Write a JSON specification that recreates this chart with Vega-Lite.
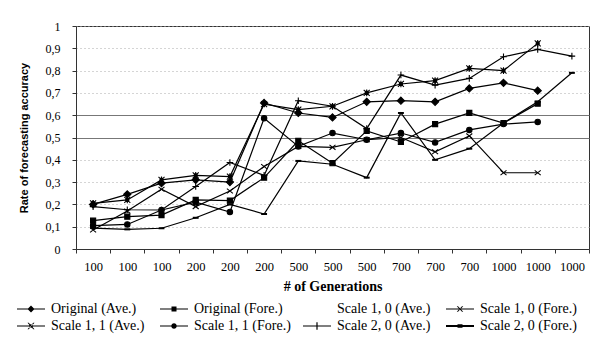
{
  "$schema": "https://vega.github.io/schema/vega-lite/v6.json",
  "autosize": {"type": "none"},
  "padding": {"left": 76, "top": 26, "right": 16, "bottom": 97},
  "width": 513,
  "height": 223,
  "background": "white",
  "config": {
    "view": {"stroke": "#333", "strokeWidth": 1},
    "font": "Liberation Serif"
  },
  "data": {"values": [
    {"i":1,"s":"Original (Ave.)","v":0.20},{"i":2,"s":"Original (Ave.)","v":0.245},{"i":3,"s":"Original (Ave.)","v":0.295},{"i":4,"s":"Original (Ave.)","v":0.31},{"i":5,"s":"Original (Ave.)","v":0.30},{"i":6,"s":"Original (Ave.)","v":0.655},{"i":7,"s":"Original (Ave.)","v":0.61},{"i":8,"s":"Original (Ave.)","v":0.59},{"i":9,"s":"Original (Ave.)","v":0.66},{"i":10,"s":"Original (Ave.)","v":0.665},{"i":11,"s":"Original (Ave.)","v":0.66},{"i":12,"s":"Original (Ave.)","v":0.72},{"i":13,"s":"Original (Ave.)","v":0.745},{"i":14,"s":"Original (Ave.)","v":0.71},
    {"i":1,"s":"Original (Fore.)","v":0.127},{"i":2,"s":"Original (Fore.)","v":0.145},{"i":3,"s":"Original (Fore.)","v":0.152},{"i":4,"s":"Original (Fore.)","v":0.22},{"i":5,"s":"Original (Fore.)","v":0.217},{"i":6,"s":"Original (Fore.)","v":0.32},{"i":7,"s":"Original (Fore.)","v":0.485},{"i":8,"s":"Original (Fore.)","v":0.385},{"i":9,"s":"Original (Fore.)","v":0.53},{"i":10,"s":"Original (Fore.)","v":0.48},{"i":11,"s":"Original (Fore.)","v":0.56},{"i":12,"s":"Original (Fore.)","v":0.61},{"i":13,"s":"Original (Fore.)","v":0.565},{"i":14,"s":"Original (Fore.)","v":0.652},
    {"i":1,"s":"Scale 1, 0 (Fore.)","v":0.085},{"i":2,"s":"Scale 1, 0 (Fore.)","v":0.17},{"i":3,"s":"Scale 1, 0 (Fore.)","v":0.268},{"i":4,"s":"Scale 1, 0 (Fore.)","v":0.19},{"i":5,"s":"Scale 1, 0 (Fore.)","v":0.26},{"i":6,"s":"Scale 1, 0 (Fore.)","v":0.37},{"i":7,"s":"Scale 1, 0 (Fore.)","v":0.46},{"i":8,"s":"Scale 1, 0 (Fore.)","v":0.456},{"i":9,"s":"Scale 1, 0 (Fore.)","v":0.49},{"i":10,"s":"Scale 1, 0 (Fore.)","v":0.50},{"i":11,"s":"Scale 1, 0 (Fore.)","v":0.436},{"i":12,"s":"Scale 1, 0 (Fore.)","v":0.507},{"i":13,"s":"Scale 1, 0 (Fore.)","v":0.342},{"i":14,"s":"Scale 1, 0 (Fore.)","v":0.342},
    {"i":1,"s":"Scale 1, 1 (Ave.)","v":0.205},{"i":2,"s":"Scale 1, 1 (Ave.)","v":0.22},{"i":3,"s":"Scale 1, 1 (Ave.)","v":0.31},{"i":4,"s":"Scale 1, 1 (Ave.)","v":0.33},{"i":5,"s":"Scale 1, 1 (Ave.)","v":0.325},{"i":6,"s":"Scale 1, 1 (Ave.)","v":0.65},{"i":7,"s":"Scale 1, 1 (Ave.)","v":0.625},{"i":8,"s":"Scale 1, 1 (Ave.)","v":0.64},{"i":9,"s":"Scale 1, 1 (Ave.)","v":0.70},{"i":10,"s":"Scale 1, 1 (Ave.)","v":0.74},{"i":11,"s":"Scale 1, 1 (Ave.)","v":0.755},{"i":12,"s":"Scale 1, 1 (Ave.)","v":0.81},{"i":13,"s":"Scale 1, 1 (Ave.)","v":0.80},{"i":14,"s":"Scale 1, 1 (Ave.)","v":0.922},
    {"i":1,"s":"Scale 1, 1 (Fore.)","v":0.105},{"i":2,"s":"Scale 1, 1 (Fore.)","v":0.11},{"i":3,"s":"Scale 1, 1 (Fore.)","v":0.175},{"i":4,"s":"Scale 1, 1 (Fore.)","v":0.21},{"i":5,"s":"Scale 1, 1 (Fore.)","v":0.166},{"i":6,"s":"Scale 1, 1 (Fore.)","v":0.586},{"i":7,"s":"Scale 1, 1 (Fore.)","v":0.46},{"i":8,"s":"Scale 1, 1 (Fore.)","v":0.52},{"i":9,"s":"Scale 1, 1 (Fore.)","v":0.49},{"i":10,"s":"Scale 1, 1 (Fore.)","v":0.52},{"i":11,"s":"Scale 1, 1 (Fore.)","v":0.478},{"i":12,"s":"Scale 1, 1 (Fore.)","v":0.534},{"i":13,"s":"Scale 1, 1 (Fore.)","v":0.56},{"i":14,"s":"Scale 1, 1 (Fore.)","v":0.57},
    {"i":1,"s":"Scale 2, 0 (Ave.)","v":0.19},{"i":2,"s":"Scale 2, 0 (Ave.)","v":0.176},{"i":3,"s":"Scale 2, 0 (Ave.)","v":0.175},{"i":4,"s":"Scale 2, 0 (Ave.)","v":0.28},{"i":5,"s":"Scale 2, 0 (Ave.)","v":0.388},{"i":6,"s":"Scale 2, 0 (Ave.)","v":0.33},{"i":7,"s":"Scale 2, 0 (Ave.)","v":0.665},{"i":8,"s":"Scale 2, 0 (Ave.)","v":0.64},{"i":9,"s":"Scale 2, 0 (Ave.)","v":0.54},{"i":10,"s":"Scale 2, 0 (Ave.)","v":0.78},{"i":11,"s":"Scale 2, 0 (Ave.)","v":0.735},{"i":12,"s":"Scale 2, 0 (Ave.)","v":0.765},{"i":13,"s":"Scale 2, 0 (Ave.)","v":0.862},{"i":14,"s":"Scale 2, 0 (Ave.)","v":0.895},{"i":15,"s":"Scale 2, 0 (Ave.)","v":0.865},
    {"i":1,"s":"Scale 2, 0 (Fore.)","v":0.094},{"i":2,"s":"Scale 2, 0 (Fore.)","v":0.088},{"i":3,"s":"Scale 2, 0 (Fore.)","v":0.093},{"i":4,"s":"Scale 2, 0 (Fore.)","v":0.14},{"i":5,"s":"Scale 2, 0 (Fore.)","v":0.20},{"i":6,"s":"Scale 2, 0 (Fore.)","v":0.157},{"i":7,"s":"Scale 2, 0 (Fore.)","v":0.395},{"i":8,"s":"Scale 2, 0 (Fore.)","v":0.38},{"i":9,"s":"Scale 2, 0 (Fore.)","v":0.32},{"i":10,"s":"Scale 2, 0 (Fore.)","v":0.61},{"i":11,"s":"Scale 2, 0 (Fore.)","v":0.40},{"i":12,"s":"Scale 2, 0 (Fore.)","v":0.45},{"i":13,"s":"Scale 2, 0 (Fore.)","v":0.565},{"i":14,"s":"Scale 2, 0 (Fore.)","v":0.66},{"i":15,"s":"Scale 2, 0 (Fore.)","v":0.79}
  ]},
  "encoding": {
    "x": {
      "field": "i", "type": "ordinal", "bandPosition": 0.5,
      "scale": {"type": "band", "paddingInner": 0, "paddingOuter": 0, "domain": [1,2,3,4,5,6,7,8,9,10,11,12,13,14,15]},
      "axis": {
        "title": "# of Generations",
        "titleFont": "Liberation Serif", "titleFontSize": 14, "titleFontWeight": "bold", "titleColor": "black", "titlePadding": 7,
        "labelExpr": "['100','100','100','200','200','200','500','500','500','700','700','700','1000','1000','1000'][datum.value-1]",
        "labelAngle": 0, "labelFont": "Liberation Serif", "labelFontSize": 12.5, "labelColor": "black", "labelPadding": 7,
        "tickBand": "extent", "tickSize": 4, "tickColor": "#333", "domainColor": "#333", "grid": false
      }
    },
    "y": {
      "field": "v", "type": "quantitative",
      "scale": {"domain": [0, 1], "nice": false, "zero": true},
      "axis": {
        "title": "Rate of forecasting accuracy",
        "titleFont": "Liberation Sans", "titleFontSize": 11, "titleFontWeight": "bold", "titleColor": "black", "titlePadding": 16,
        "values": [0,0.1,0.2,0.3,0.4,0.5,0.6,0.7,0.8,0.9,1],
        "labelExpr": "replace(format(datum.value, '.1~f'), '.', ',')",
        "labelFont": "Liberation Serif", "labelFontSize": 12, "labelColor": "black", "labelPadding": 12,
        "tickSize": 4, "tickColor": "#333", "domainColor": "#333",
        "grid": true,
        "gridColor": {"condition": {"test": "datum.value == 0.5 || datum.value == 0.6", "value": "#777"}, "value": "#aaa"},
        "gridDash": {"condition": {"test": "datum.value == 0.5 || datum.value == 0.6", "value": []}, "value": [1, 3]},
        "gridWidth": 1
      }
    }
  },
  "layer": [
    {
      "mark": {"type": "line", "color": "black", "strokeWidth": 1.2},
      "encoding": {"detail": {"field": "s"}}
    },
    {
      "mark": {"type": "point", "fill": "black", "stroke": "black", "strokeWidth": 1.1, "opacity": 1, "fillOpacity": 1, "size": 36},
      "encoding": {
        "shape": {
          "field": "s", "type": "nominal",
          "scale": {
            "domain": ["Original (Ave.)", "Original (Fore.)", "Scale 1, 0 (Ave.)", "Scale 1, 0 (Fore.)", "Scale 1, 1 (Ave.)", "Scale 1, 1 (Fore.)", "Scale 2, 0 (Ave.)", "Scale 2, 0 (Fore.)"],
            "range": [
              "M0,-1.2L1.2,0L0,1.2L-1.2,0Z",
              "M-0.85,-0.85L0.85,-0.85L0.85,0.85L-0.85,0.85Z",
              "M0,0",
              "M-1,-0.8L1,0.8M-1,0.8L1,-0.8",
              "M-1,-1L1,1M-1,1L1,-1M0,-1.1L0,1.1M-0.5,-0.5L0.5,-0.5L0.5,0.5L-0.5,0.5Z",
              "M-0.9,0A0.9,0.9,0,1,0,0.9,0A0.9,0.9,0,1,0,-0.9,0Z",
              "M-1.1,0L1.1,0M0,-1.1L0,1.1",
              "M-0.8,-0.15L0.8,-0.15L0.8,0.15L-0.8,0.15Z"
            ]
          },
          "legend": null
        }
      }
    },
    {
      "transform": [{"filter": "datum.v < 0"}],
      "mark": {"type": "point", "fill": "black", "stroke": "black", "strokeWidth": 1.2, "opacity": 1, "fillOpacity": 1},
      "encoding": {
        "shape": {
          "field": "s", "type": "nominal",
          "scale": {
            "domain": ["Original (Ave.)", "Original (Fore.)", "Scale 1, 0 (Ave.)", "Scale 1, 0 (Fore.)", "Scale 1, 1 (Ave.)", "Scale 1, 1 (Fore.)", "Scale 2, 0 (Ave.)", "Scale 2, 0 (Fore.)"],
            "range": [
              "M-1,-0.12L4.6,-0.12L4.6,0.12L-1,0.12ZM1.8,-0.7L2.5,0L1.8,0.7L1.1,0Z",
              "M-1,-0.12L4.6,-0.12L4.6,0.12L-1,0.12ZM1.3,-0.5L2.3,-0.5L2.3,0.5L1.3,0.5Z",
              "M0,0",
              "M-1,-0.12L4.6,-0.12L4.6,0.12L-1,0.12ZM1.15,-0.55L1.4,-0.55L2.45,0.55L2.2,0.55ZM1.15,0.55L1.4,0.55L2.45,-0.55L2.2,-0.55Z",
              "M-1,-0.12L4.6,-0.12L4.6,0.12L-1,0.12ZM1.1,-0.65L1.35,-0.65L2.5,0.65L2.25,0.65ZM1.1,0.65L1.35,0.65L2.5,-0.65L2.25,-0.65ZM1.45,-0.35L2.15,-0.35L2.15,0.35L1.45,0.35Z",
              "M-1,-0.12L4.6,-0.12L4.6,0.12L-1,0.12ZM1.25,0A0.55,0.55,0,1,1,2.35,0A0.55,0.55,0,1,1,1.25,0Z",
              "M-1,-0.12L4.6,-0.12L4.6,0.12L-1,0.12ZM1.68,-0.75L1.92,-0.75L1.92,0.75L1.68,0.75Z",
              "M-1,-0.2L4.6,-0.2L4.6,0.2L-1,0.2ZM1.3,-0.35L2.3,-0.35L2.3,0.35L1.3,0.35Z"
            ]
          },
          "legend": {
            "title": null,
            "orient": "none",
            "legendX": -61,
            "legendY": 276,
            "direction": "horizontal",
            "columns": 4,
            "gridAlign": "all",
            "columnPadding": 10,
            "rowPadding": 3,
            "padding": 0,
            "symbolSize": 100,
            "symbolOffset": 0,
            "labelOffset": 22,
            "labelFont": "Liberation Serif",
            "labelFontSize": 14,
            "labelColor": "black",
            "labelLimit": 200,
            "symbolFillColor": "black",
            "symbolStrokeColor": "black",
            "symbolStrokeWidth": 0,
            "symbolOpacity": 1,
            "encode": {
              "symbols": {"update": {"fill": {"value": "black"}, "opacity": {"value": 1}}}
            }
          }
        }
      }
    }
  ],
  "resolve": {"scale": {"shape": "independent"}, "legend": {"shape": "independent"}}
}
